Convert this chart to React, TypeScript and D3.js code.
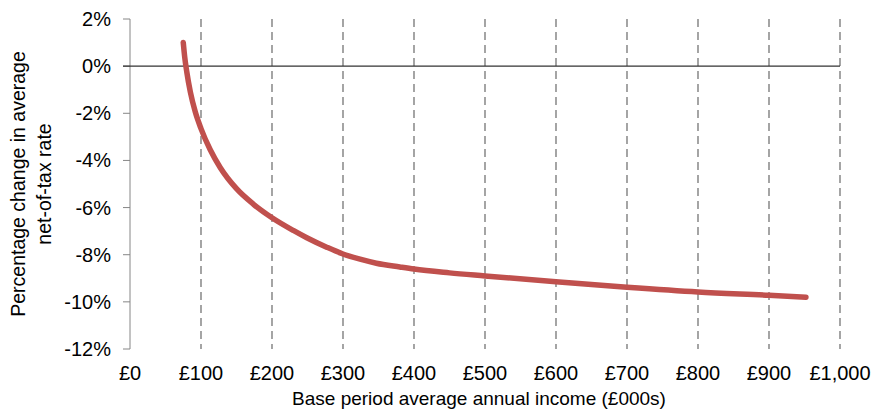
import React from "react";
import * as d3 from "d3";

// income (£000s) and percentage change in average net-of-tax rate
const incomes = [75, 77, 80, 85, 92, 100, 113, 127, 150, 174, 200, 230, 249, 277, 300, 324, 347, 380, 400, 450, 500, 600, 700, 800, 900, 952];
const changes = [1.0, 0.4, -0.25, -1.1, -1.95, -2.65, -3.55, -4.3, -5.2, -5.86, -6.43, -6.97, -7.28, -7.68, -7.97, -8.19, -8.36, -8.52, -8.61, -8.77, -8.9, -9.15, -9.38, -9.58, -9.72, -9.8];

const xTicks = [0, 100, 200, 300, 400, 500, 600, 700, 800, 900, 1000];
const yTicks = [2, 0, -2, -4, -6, -8, -10, -12];

const xTitle = "Base period average annual income (£000s)";
const yTitle = ["Percentage change in average", "net-of-tax rate"];

export default function App() {
  const width = 873;
  const height = 417;
  const margin = { top: 19, right: 33, bottom: 68, left: 130 };
  const font = "'Liberation Sans', Arial, sans-serif";

  const x = d3.scaleLinear().domain([0, 1000]).range([margin.left, width - margin.right]);
  const y = d3.scaleLinear().domain([-12, 2]).range([height - margin.bottom, margin.top]);

  const points = incomes.map((v, i) => [v, changes[i]] as [number, number]);
  const line = d3.line<[number, number]>()
    .x(d => x(d[0]))
    .y(d => y(d[1]))
    .curve(d3.curveMonotoneX);

  const fmtX = (v: number) => "£" + d3.format(",")(v);

  return (
    <svg width={width} height={height} style={{ position: "absolute", left: 0, top: 0 }}>
      {/* Gridlines */}
      {xTicks.slice(1).map(t => (
        <line key={t} x1={x(t)} x2={x(t)} y1={y(2)} y2={y(-12)}
          stroke="#7f7f7f" strokeWidth={1.4} strokeDasharray="8,5" />
      ))}
      {/* Y axis */}
      <line x1={x(0)} x2={x(0)} y1={y(2)} y2={y(-12)} stroke="#868686" strokeWidth={1} />
      {yTicks.map(t => (
        <g key={t}>
          <line x1={x(0) - 7} x2={x(0)} y1={y(t)} y2={y(t)} stroke="#868686" strokeWidth={1} />
          <text x={111} y={y(t)} dy="0.35em" textAnchor="end"
            style={{ fontFamily: font, fontSize: 20 }} fill="#000">{t}%</text>
        </g>
      ))}
      {/* Zero line */}
      <line x1={x(0) - 7} x2={x(1000)} y1={y(0)} y2={y(0)} stroke="#333" strokeWidth={1.3} />
      {/* X tick labels */}
      {xTicks.map(t => (
        <text key={t} x={x(t)} y={380} textAnchor="middle"
          style={{ fontFamily: font, fontSize: 20 }} fill="#000">{fmtX(t)}</text>
      ))}
      <text x={(x(0) + x(1000)) / 2 - 6} y={405} textAnchor="middle"
        style={{ fontFamily: font, fontSize: 19 }} fill="#000">{xTitle}</text>
      {/* Y title */}
      <g transform={`translate(0,${(y(2) + y(-12)) / 2}) rotate(-90)`}>
        <text x={0} y={25} textAnchor="middle" style={{ fontFamily: font, fontSize: 19.5 }} fill="#000">{yTitle[0]}</text>
        <text x={0} y={51} textAnchor="middle" style={{ fontFamily: font, fontSize: 19.5 }} fill="#000">{yTitle[1]}</text>
      </g>
      {/* Series */}
      <path d={line(points) ?? ""} fill="none" stroke="#C0504D" strokeWidth={5.5} strokeLinecap="round" />
    </svg>
  );
}
